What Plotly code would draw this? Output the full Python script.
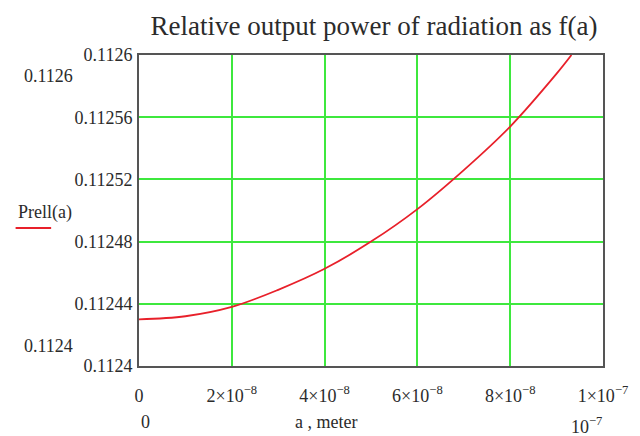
import plotly.graph_objects as go

# Data
a_values = [0, 1e-8, 2e-8, 3e-8, 4e-8, 5e-8, 6e-8, 7e-8, 8e-8, 9e-8, 9.32e-8]
prel_values = [0.11243, 0.112432, 0.112438, 0.112449, 0.1124625, 0.11248,
               0.1125009, 0.112526, 0.112554, 0.112588, 0.1126]

x_tickvals = [0, 2e-8, 4e-8, 6e-8, 8e-8, 1e-7]
x_ticktext = ["0", "2×10<sup>−8</sup>", "4×10<sup>−8</sup>", "6×10<sup>−8</sup>",
              "8×10<sup>−8</sup>", "1×10<sup>−7</sup>"]
y_tickvals = [0.1124, 0.11244, 0.11248, 0.11252, 0.11256, 0.1126]
y_ticktext = ["0.1124", "0.11244", "0.11248", "0.11252", "0.11256", "0.1126"]

FONT = "Liberation Serif, Times New Roman, serif"
TXT = "#2b2b2b"
FS = 18

# page body margin offset (browser default)
OFF = 8
W, H = 640 - OFF, 436 - OFF
L, R, T, B = 139 - OFF, 609 - OFF, 55 - OFF, 366 - OFF

def px(xp):
    return (xp - OFF - L) / (R - L)

def py(yp):
    return (B - (yp - OFF)) / (B - T)

fig = go.Figure()
fig.add_trace(go.Scatter(x=a_values, y=prel_values, mode="lines",
                         line=dict(color="#e8202a", width=1.8, shape="spline"),
                         showlegend=False, hoverinfo="skip"))

fig.update_layout(
    width=W, height=H,
    margin=dict(l=L, r=W - R, t=T, b=H - B),
    paper_bgcolor="white", plot_bgcolor="white",
    font=dict(family=FONT, color=TXT, size=FS),
    title=dict(text="Relative output power of radiation as f(a)",
               font=dict(family=FONT, size=27, color=TXT),
               x=(374 - OFF) / W, xanchor="center", y=1 - (26 - OFF) / H, yanchor="middle"),
    xaxis=dict(range=[0, 1e-7], tickvals=x_tickvals, ticktext=x_ticktext,
               showgrid=True, gridcolor="#3ee83e", gridwidth=1.5,
               showline=True, linecolor="#555555", linewidth=2, mirror=True,
               zeroline=False, ticks="", ticklabelstandoff=12,
               tickfont=dict(family=FONT, size=FS, color=TXT)),
    yaxis=dict(range=[0.1124, 0.1126], tickvals=y_tickvals, ticktext=y_ticktext,
               showgrid=True, gridcolor="#3ee83e", gridwidth=1.5,
               showline=True, linecolor="#555555", linewidth=2, mirror=True,
               zeroline=False, ticks="", ticklabelstandoff=1,
               tickfont=dict(family=FONT, size=FS, color=TXT)),
)

annots = [
    dict(text="0.1126", x=px(20), y=py(76), xanchor="left", yanchor="middle"),
    dict(text="0.1124", x=px(20), y=py(346), xanchor="left", yanchor="middle"),
    dict(text="Prell(a)", x=px(14), y=py(212), xanchor="left", yanchor="middle"),
    dict(text="0", x=px(146), y=py(422), xanchor="center", yanchor="middle"),
    dict(text="a , meter", x=px(328), y=py(422), xanchor="center", yanchor="middle"),
    dict(text="10<sup>−7</sup>", x=px(592), y=py(425), xanchor="center", yanchor="middle"),
]
for an in annots:
    fig.add_annotation(xref="paper", yref="paper", showarrow=False,
                       font=dict(family=FONT, size=FS, color=TXT), **an)

fig.add_shape(type="line", xref="paper", yref="paper",
              x0=px(14), x1=px(50), y0=py(228), y1=py(228),
              line=dict(color="#e8202a", width=1.8))

fig.write_html("out.html")
